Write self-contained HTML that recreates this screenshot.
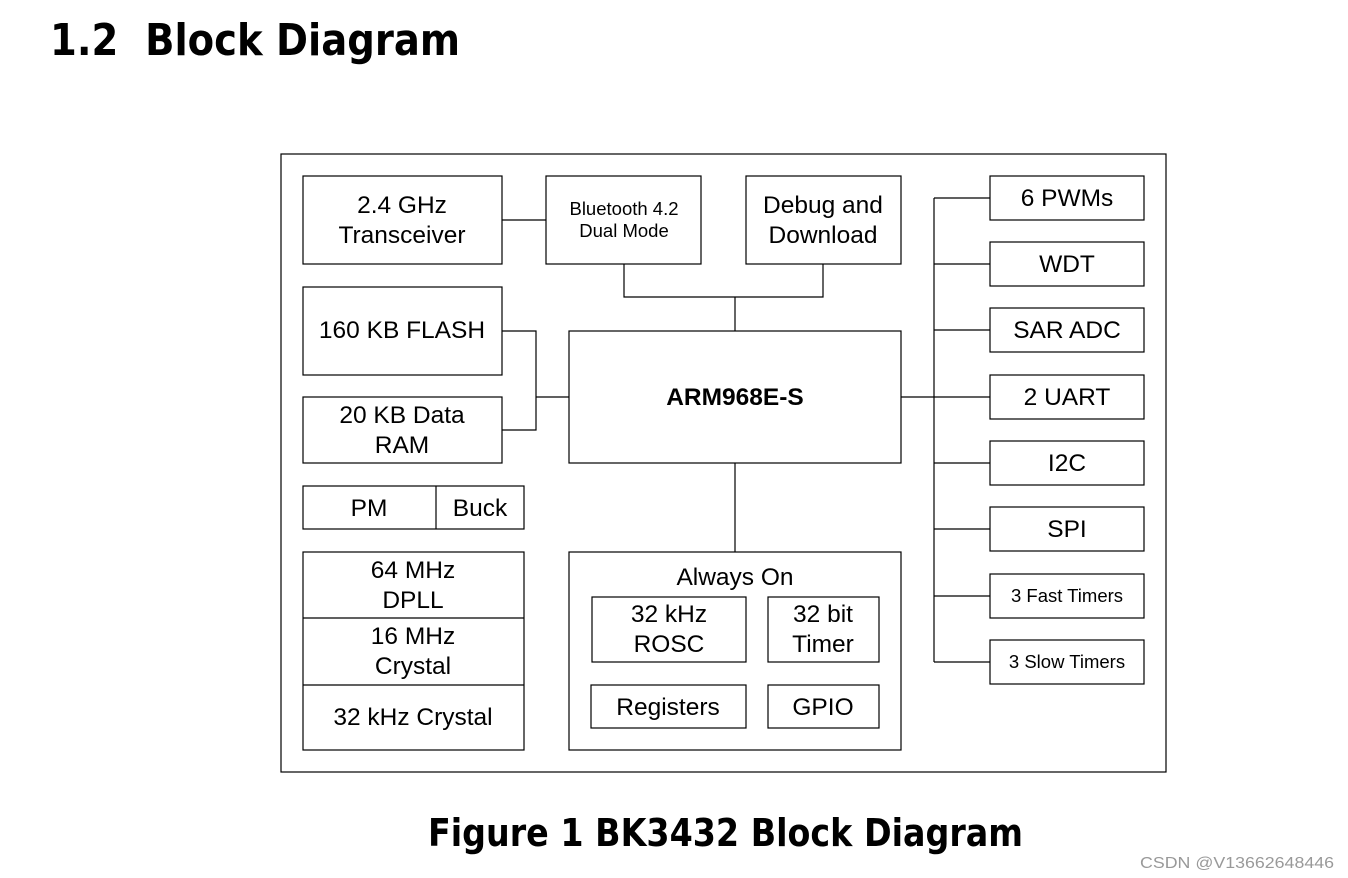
<!DOCTYPE html>
<html><head><meta charset="utf-8"><style>
html,body{margin:0;padding:0;background:#fff;width:1348px;height:878px;overflow:hidden}
svg{display:block}
text{font-family:"Liberation Sans",sans-serif;fill:#000}
.b{font-family:"DejaVu Sans","Liberation Sans",sans-serif;font-weight:bold}
rect,line,polyline{fill:none;stroke:#000;stroke-width:1.2}
</style></head><body>
<svg width="1348" height="878" viewBox="0 0 1348 878">
<text class="b" x="50" y="55" font-size="44" textLength="410" lengthAdjust="spacingAndGlyphs">1.2&#160;&#160;Block Diagram</text>
<rect x="281" y="154" width="885" height="618"/>
<g font-size="24.5" text-anchor="middle">
<rect x="303" y="176" width="199" height="88"/>
<text x="402" y="213">2.4 GHz</text><text x="402" y="243">Transceiver</text>
<rect x="546" y="176" width="155" height="88"/>
<text x="624" y="215" font-size="18.5">Bluetooth 4.2</text><text x="624" y="237" font-size="18.5">Dual Mode</text>
<rect x="746" y="176" width="155" height="88"/>
<text x="823" y="213">Debug and</text><text x="823" y="243">Download</text>
<line x1="502" y1="220" x2="546" y2="220"/>
<polyline points="624,264 624,297 823,297 823,264"/>
<line x1="735" y1="297" x2="735" y2="331"/>
<rect x="569" y="331" width="332" height="132"/>
<text x="735" y="405" font-weight="bold">ARM968E-S</text>
<rect x="303" y="287" width="199" height="88"/>
<text x="402" y="338">160 KB FLASH</text>
<rect x="303" y="397" width="199" height="66"/>
<text x="402" y="423">20 KB Data</text><text x="402" y="453">RAM</text>
<polyline points="502,331 536,331 536,430 502,430"/>
<line x1="536" y1="397" x2="569" y2="397"/>
<rect x="303" y="486" width="221" height="43"/>
<line x1="436" y1="486" x2="436" y2="529"/>
<text x="369" y="516">PM</text><text x="480" y="516">Buck</text>
<rect x="303" y="552" width="221" height="198"/>
<line x1="303" y1="618" x2="524" y2="618"/><line x1="303" y1="685" x2="524" y2="685"/>
<text x="413" y="578">64 MHz</text><text x="413" y="608">DPLL</text>
<text x="413" y="644">16 MHz</text><text x="413" y="674">Crystal</text>
<text x="413" y="725">32 kHz Crystal</text>
<line x1="735" y1="463" x2="735" y2="552"/>
<rect x="569" y="552" width="332" height="198"/>
<text x="735" y="585">Always On</text>
<rect x="592" y="597" width="154" height="65"/>
<text x="669" y="622">32 kHz</text><text x="669" y="652">ROSC</text>
<rect x="768" y="597" width="111" height="65"/>
<text x="823" y="622">32 bit</text><text x="823" y="652">Timer</text>
<rect x="591" y="685" width="155" height="43"/>
<text x="668" y="715">Registers</text>
<rect x="768" y="685" width="111" height="43"/>
<text x="823" y="715">GPIO</text>
<line x1="901" y1="397" x2="934" y2="397"/>
<line x1="934" y1="198" x2="934" y2="662"/>
<g>
<rect x="990" y="176" width="154" height="44"/><line x1="934" y1="198" x2="990" y2="198"/><text x="1067" y="206">6 PWMs</text>
<rect x="990" y="242" width="154" height="44"/><line x1="934" y1="264" x2="990" y2="264"/><text x="1067" y="272">WDT</text>
<rect x="990" y="308" width="154" height="44"/><line x1="934" y1="330" x2="990" y2="330"/><text x="1067" y="338">SAR ADC</text>
<rect x="990" y="375" width="154" height="44"/><line x1="934" y1="397" x2="990" y2="397"/><text x="1067" y="405">2 UART</text>
<rect x="990" y="441" width="154" height="44"/><line x1="934" y1="463" x2="990" y2="463"/><text x="1067" y="471">I2C</text>
<rect x="990" y="507" width="154" height="44"/><line x1="934" y1="529" x2="990" y2="529"/><text x="1067" y="537">SPI</text>
<rect x="990" y="574" width="154" height="44"/><line x1="934" y1="596" x2="990" y2="596"/><text x="1067" y="602" font-size="18.5">3 Fast Timers</text>
<rect x="990" y="640" width="154" height="44"/><line x1="934" y1="662" x2="990" y2="662"/><text x="1067" y="668" font-size="18.5">3 Slow Timers</text>
</g>
</g>
<text class="b" x="428" y="846" font-size="38" textLength="595" lengthAdjust="spacingAndGlyphs">Figure 1 BK3432 Block Diagram</text>
<text x="1140" y="868" font-size="16" style="fill:#999" textLength="194" lengthAdjust="spacingAndGlyphs">CSDN @V13662648446</text>
</svg>
</body></html>
